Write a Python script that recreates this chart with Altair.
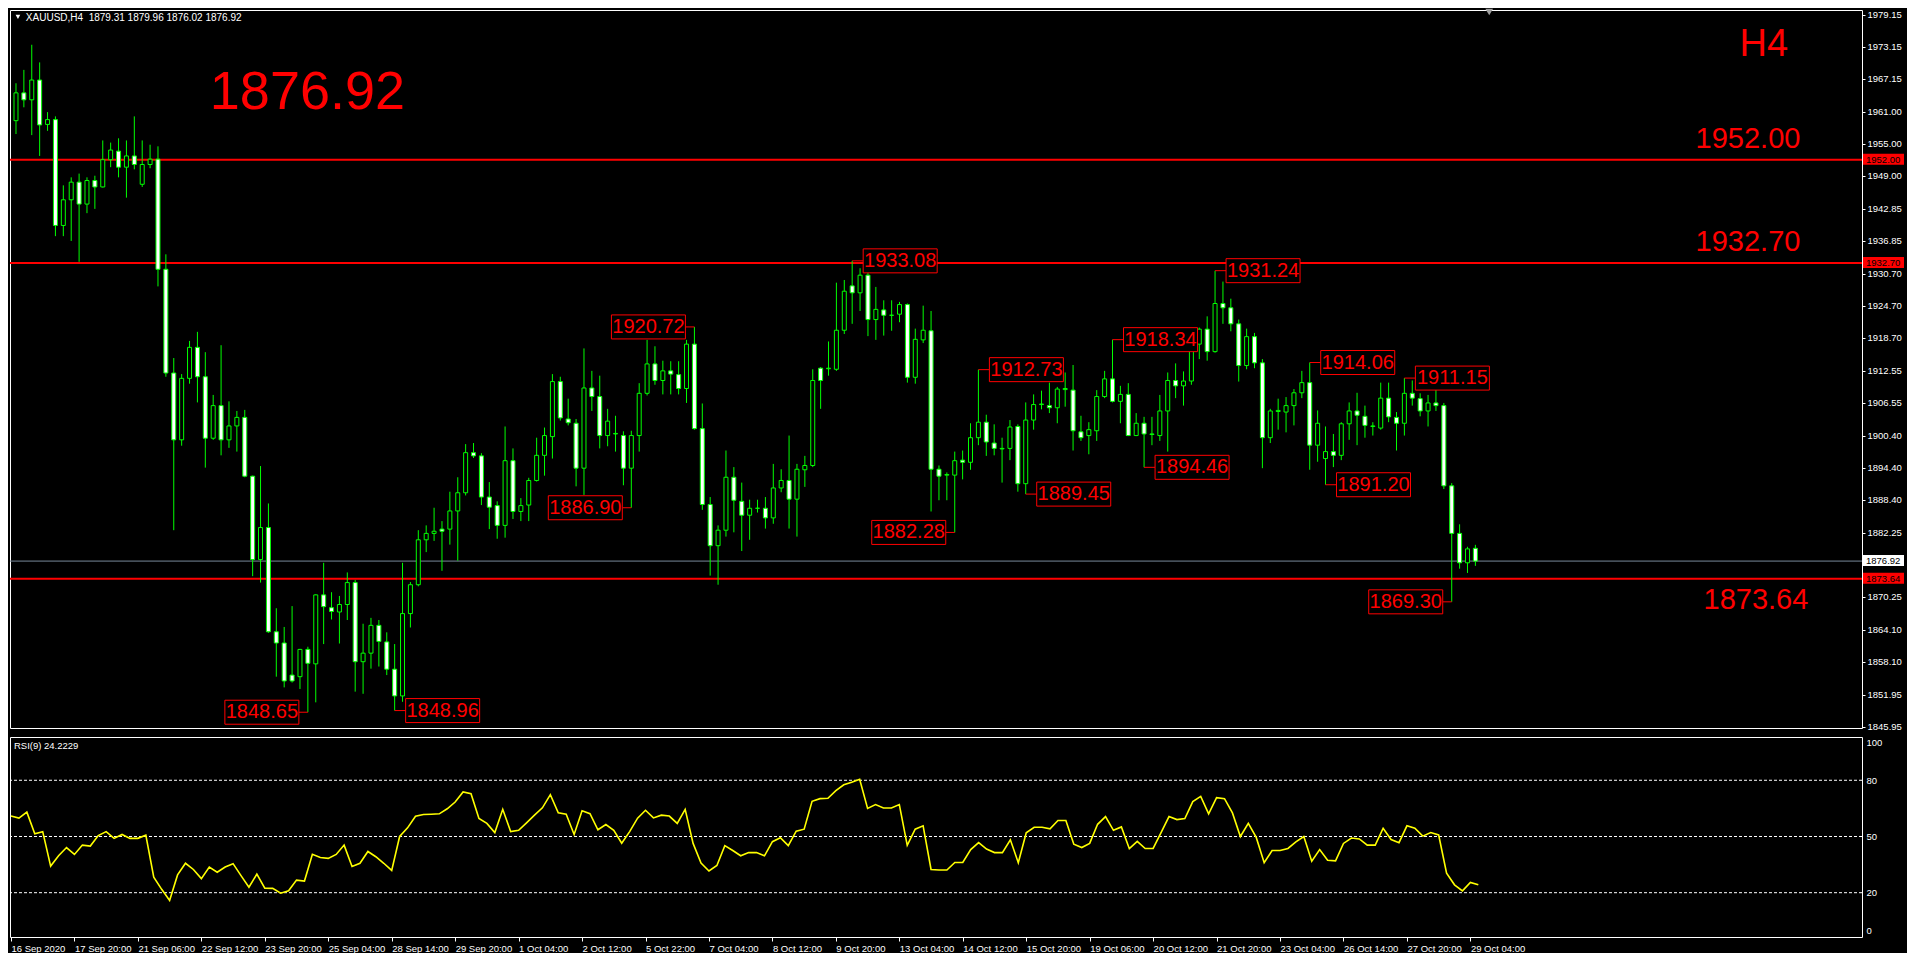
import json
import altair as alt
import pandas as pd

# ---------------- data ----------------
opens = [1959.3,1964.5,1963.2,1966.9,1958.6,1959.5,1939.7,1944.5,1947.8,1943.7,
1948.1,1946.9,1952.0,1953.6,1950.6,1952.7,1947.4,1951.1,1952.1,1931.5,
1912.1,1899.6,1911.1,1916.9,1911.4,1899.9,1906.0,1899.6,1902.2,1903.8,
1892.8,1877.2,1883.2,1863.7,1861.6,1855.6,1855.3,1860.4,1857.7,1870.6,
1868.2,1867.4,1868.8,1872.9,1858.1,1859.7,1864.9,1861.8,1856.7,1851.7,
1867.1,1872.5,1880.9,1882.1,1882.9,1882.9,1886.3,1889.7,1897.2,1896.6,
1888.9,1887.3,1883.6,1895.7,1886.2,1887.4,1892.0,1896.7,1900.2,1910.5,
1903.5,1902.7,1894.3,1909.3,1907.7,1900.4,1900.7,1900.4,1894.3,1900.4,
1908.3,1913.8,1910.7,1912.5,1911.8,1909.2,1917.5,1901.7,1887.5,1879.8,
1882.7,1892.6,1888.1,1885.5,1886.8,1886.8,1885.0,1890.6,1892.0,1888.5,
1894.0,1894.8,1913.0,1912.9,1912.8,1920.1,1928.4,1927.1,1930.4,1922.1,
1923.9,1922.9,1923.1,1924.9,1911.3,1918.3,1920.0,1894.1,1893.0,1893.0,
1895.8,1895.4,1900.0,1902.9,1899.0,1897.9,1898.0,1902.1,1891.4,1903.3,
1906.2,1906.0,1905.6,1909.0,1908.9,1901.1,1900.4,1901.3,1907.7,1911.0,
1906.8,1908.1,1900.4,1902.7,1900.7,1900.4,1905.0,1910.7,1909.7,1910.6,
1917.5,1920.3,1916.1,1925.1,1924.3,1921.3,1913.5,1918.9,1914.0,1900.0,
1904.9,1904.8,1906.0,1908.4,1910.3,1898.6,1896.1,1897.4,1896.7,1902.6,
1905.0,1904.0,1902.1,1901.8,1907.4,1903.8,1902.7,1908.3,1907.3,1905.0,
1906.5,1906.0,1891.0,1882.1,1876.6,1879.31]

highs = [1966.3,1968.8,1973.5,1970.2,1960.9,1960.1,1947.2,1948.7,1949.4,1948.7,
1949.0,1955.6,1955.2,1956.0,1955.6,1960.1,1955.6,1954.8,1954.5,1934.3,
1914.9,1911.9,1918.1,1919.8,1916.0,1908.0,1917.3,1906.8,1905.0,1905.2,
1892.9,1894.7,1887.7,1868.1,1864.6,1868.5,1860.5,1860.9,1870.7,1876.6,
1871.1,1870.4,1874.8,1873.4,1865.2,1866.3,1865.9,1863.6,1861.4,1876.6,
1873.0,1882.7,1883.6,1886.9,1884.4,1889.9,1892.6,1898.8,1899.0,1897.1,
1891.7,1888.1,1902.1,1898.0,1888.7,1892.5,1900.0,1901.9,1911.9,1911.4,
1907.3,1903.5,1916.7,1912.5,1911.6,1905.4,1904.1,1901.2,1901.3,1910.2,
1918.3,1917.1,1914.4,1914.3,1914.3,1918.3,1920.72,1906.4,1888.9,1883.6,
1897.6,1894.5,1891.6,1888.4,1888.4,1888.9,1895.1,1894.1,1900.4,1895.1,
1896.6,1912.8,1913.2,1918.0,1929.0,1929.5,1933.08,1931.7,1931.7,1928.2,
1925.7,1925.7,1925.4,1925.1,1920.4,1924.7,1923.7,1894.8,1893.5,1897.4,
1897.6,1902.7,1912.73,1904.3,1902.5,1900.0,1903.3,1902.5,1906.6,1908.1,
1908.8,1910.3,1909.5,1912.2,1913.6,1904.1,1902.9,1908.9,1912.5,1918.34,
1909.7,1910.2,1904.6,1903.9,1903.9,1908.0,1912.2,1913.9,1912.4,1920.4,
1920.6,1922.7,1931.24,1929.2,1926.0,1922.1,1920.4,1919.6,1914.7,1905.4,
1907.3,1907.6,1909.1,1912.5,1914.06,1905.1,1902.1,1900.7,1902.9,1906.6,
1908.4,1906.0,1902.9,1910.3,1910.3,1904.8,1911.15,1910.7,1908.3,1908.0,
1910.3,1906.5,1891.5,1883.8,1879.6,1879.96]

lows = [1956.8,1961.8,1956.6,1952.7,1957.4,1937.7,1937.7,1936.8,1932.9,1942.0,
1942.8,1946.8,1950.6,1948.7,1944.9,1950.2,1946.9,1950.4,1928.3,1911.4,
1882.7,1898.5,1910.1,1906.6,1894.4,1899.6,1896.7,1898.1,1897.4,1892.6,
1874.1,1872.9,1863.5,1855.3,1853.3,1854.2,1853.0,1848.65,1850.5,1861.4,
1866.0,1861.5,1865.9,1852.5,1852.1,1856.8,1857.2,1855.6,1848.96,1850.6,
1864.5,1872.2,1878.6,1880.7,1875.1,1880.0,1877.0,1889.2,1896.2,1887.4,
1882.9,1881.1,1881.3,1884.8,1884.4,1884.4,1891.8,1892.9,1896.1,1903.2,
1902.3,1890.9,1889.3,1905.0,1898.0,1898.4,1897.4,1891.1,1886.90,1897.4,
1907.9,1909.9,1908.1,1908.1,1908.1,1906.5,1901.5,1886.5,1874.2,1872.5,
1881.5,1882.3,1878.8,1880.9,1886.0,1883.0,1883.9,1889.8,1883.0,1881.5,
1890.8,1894.5,1905.4,1911.6,1912.5,1919.4,1921.3,1923.7,1919.0,1918.3,
1919.1,1920.0,1921.6,1910.3,1910.1,1917.7,1886.2,1888.3,1888.3,1882.28,
1892.2,1894.0,1898.6,1896.6,1896.7,1891.6,1895.8,1889.9,1889.45,1901.5,
1905.3,1904.6,1902.7,1905.8,1897.6,1899.4,1896.9,1899.4,1907.4,1906.6,
1902.7,1900.3,1900.3,1894.46,1898.6,1899.4,1897.4,1907.4,1906.0,1909.9,
1914.7,1914.4,1915.9,1921.3,1919.9,1910.5,1912.8,1913.0,1894.3,1899.0,
1901.5,1901.0,1902.3,1907.4,1894.0,1895.5,1891.20,1894.5,1895.8,1899.6,
1898.6,1900.0,1900.4,1901.5,1902.9,1897.6,1900.4,1906.0,1904.0,1902.1,
1905.0,1890.4,1869.30,1875.5,1874.7,1876.02]

closes = [1964.5,1963.2,1966.9,1958.5,1959.5,1939.7,1944.5,1947.8,1943.7,1948.1,
1946.9,1952.0,1953.8,1950.6,1952.7,1951.1,1951.1,1952.1,1931.5,1912.1,
1899.6,1911.1,1916.9,1911.4,1899.9,1906.0,1899.6,1902.2,1903.8,1892.8,
1877.2,1883.2,1863.7,1861.6,1854.5,1854.5,1860.4,1857.8,1870.6,1868.4,
1867.5,1868.8,1872.9,1858.1,1859.7,1864.9,1861.9,1856.7,1851.7,1867.1,
1872.5,1880.9,1882.1,1882.5,1882.5,1886.3,1889.7,1897.2,1896.6,1888.9,
1887.0,1883.6,1895.7,1886.2,1887.3,1892.0,1896.7,1900.4,1910.5,1903.7,
1902.8,1894.3,1909.3,1907.7,1900.4,1903.1,1900.8,1894.3,1900.4,1908.3,
1913.8,1910.7,1912.5,1911.9,1909.2,1917.5,1901.7,1887.5,1879.8,1882.7,
1892.6,1888.3,1885.5,1886.8,1886.8,1885.0,1890.6,1892.0,1888.5,1894.1,
1894.8,1910.7,1910.7,1913.0,1920.1,1927.4,1927.1,1930.4,1922.1,1924.0,
1922.9,1922.9,1924.9,1911.3,1918.4,1920.1,1894.1,1892.8,1893.1,1895.7,
1895.4,1900.0,1902.9,1899.2,1898.0,1898.0,1902.0,1891.4,1903.3,1906.2,
1906.3,1905.6,1909.1,1909.2,1901.3,1900.0,1901.5,1907.7,1911.0,1906.8,
1908.1,1900.4,1902.7,1900.7,1900.6,1905.0,1910.7,1909.7,1910.6,1917.5,
1920.3,1916.1,1925.1,1924.3,1921.3,1913.5,1918.9,1914.0,1900.0,1905.0,
1905.1,1906.0,1908.4,1910.3,1898.6,1902.7,1897.4,1896.7,1902.6,1905.0,
1904.2,1902.3,1902.2,1907.4,1903.9,1902.7,1908.3,1907.4,1905.0,1906.5,
1906.0,1891.0,1882.1,1876.6,1879.2,1876.92]

rsi_values = [60.9,59.8,63.0,51.5,52.6,34.2,39.7,44.1,40.4,45.4,
44.9,50.5,52.6,49.0,51.1,49.0,49.0,50.7,28.3,21.8,
15.8,29.5,35.7,32.4,27.5,33.7,30.9,33.7,35.5,29.1,
22.9,29.9,22.4,22.3,19.7,21.0,26.7,26.2,40.5,38.8,
38.3,40.4,45.4,34.0,35.7,42.0,39.2,35.7,31.9,50.0,
54.6,60.8,61.7,61.9,62.1,64.8,68.4,73.8,72.8,59.6,
57.0,52.1,64.5,52.6,53.3,57.3,61.4,65.3,72.3,62.6,
61.9,51.1,63.7,62.2,53.6,56.4,53.3,46.4,52.6,59.8,
64.0,59.9,61.4,60.9,57.0,64.5,46.3,35.8,31.6,34.5,
45.1,42.5,39.7,41.4,41.4,39.7,47.2,49.3,45.1,52.8,
53.9,68.8,70.2,70.4,74.5,77.6,78.9,80.5,65.0,67.0,
65.2,65.2,67.0,45.3,53.9,55.7,32.4,32.1,32.1,36.1,
36.1,43.0,46.7,43.3,41.4,41.4,48.2,36.0,52.0,54.9,
54.9,54.1,58.5,58.5,45.9,44.1,46.3,56.5,60.6,53.3,
55.1,43.5,47.4,43.6,43.6,52.1,60.6,59.0,59.6,68.6,
71.4,62.1,70.7,70.2,62.6,50.0,57.0,49.5,36.0,42.5,
42.5,43.6,47.1,50.0,36.8,43.0,37.3,37.0,46.3,49.2,
48.7,45.4,45.4,54.4,48.4,46.7,55.7,54.4,50.2,52.1,
50.8,30.4,24.2,21.0,25.5,24.22]

time_labels = ["16 Sep 2020", "17 Sep 20:00", "21 Sep 06:00", "22 Sep 12:00", "23 Sep 20:00",
               "25 Sep 04:00", "28 Sep 14:00", "29 Sep 20:00", "1 Oct 04:00", "2 Oct 12:00",
               "5 Oct 22:00", "7 Oct 04:00", "8 Oct 12:00", "9 Oct 20:00", "13 Oct 04:00",
               "14 Oct 12:00", "15 Oct 20:00", "19 Oct 06:00", "20 Oct 12:00", "21 Oct 20:00",
               "23 Oct 04:00", "26 Oct 14:00", "27 Oct 20:00", "29 Oct 04:00"]
time_label_step = 8

# 1876.25 is a tick whose label is hidden behind the current-price tag
price_ticks = [1979.15, 1973.15, 1967.15, 1961.00, 1955.00, 1949.00, 1942.85, 1936.85,
               1930.70, 1924.70, 1918.70, 1912.55, 1906.55, 1900.40, 1894.40, 1888.40,
               1882.25, 1876.25, 1870.25, 1864.10, 1858.10, 1851.95, 1845.95]
hidden_tick = 1876.25
rsi_ticks = [0, 20, 50, 80, 100]
rsi_levels = [20, 50, 80]

level_prices = [1952.00, 1932.70, 1873.64]
level_sides = ["above", "above", "below"]
bid_price = 1876.92

swing_index = [37, 48, 78, 86, 106, 119, 122, 128, 139, 143, 152, 164, 166, 176, 182]
swing_price = [1848.65, 1848.96, 1886.90, 1920.72, 1933.08, 1882.28, 1912.73, 1889.45,
               1918.34, 1894.46, 1931.24, 1914.06, 1891.20, 1911.15, 1869.30]
swing_side = ["L", "R", "L", "L", "R", "L", "R", "R", "R", "R", "R", "R", "R", "R", "L"]

header_text = "XAUUSD,H4\u00a0\u00a01879.31 1879.96 1876.02 1876.92"
rsi_header_text = "RSI(9) 24.2229"
big_price_text = "1876.92"
timeframe_text = "H4"

# ---------------- layout ----------------
W = 1852
HP = 718
HR = 200
REF_W = 1868.0
REF_HP = 732.0
REF_HR = 205.0


def px(ref_x):
    return (ref_x - 1) * W / REF_W


def py(ref_y):
    return ref_y * HP / REF_HP


FONT = "Liberation Sans"
RED = "#FF0000"
LIME = "#00FF00"

x_scale = alt.Scale(domain=[-0.125, 233.375], nice=False, zero=False)
yp_scale = alt.Scale(domain=[1845.7, 1980.0], nice=False, zero=False)
yr_scale = alt.Scale(domain=[-3.65, 103.1], nice=False, zero=False)

price_axis = alt.Axis(orient="right", values=price_ticks,
                      labelExpr=f"abs(datum.value - {hidden_tick}) < 0.001 ? '' : format(datum.value, '.2f')",
                      labelColor="white",
                      labelFont=FONT, labelFontSize=9.5, tickColor="white", tickSize=3,
                      labelPadding=2, domain=False, grid=False, labelOverlap=False,
                      labelFlush=False, title=None)
time_axis = alt.Axis(orient="bottom",
                     values=list(range(0, time_label_step * len(time_labels), time_label_step)),
                     labelExpr=f"{json.dumps(time_labels)}[round(datum.value / {time_label_step})]",
                     labelAlign="left", labelBaseline="top",
                     labelPadding=2, labelColor="white", labelFont=FONT, labelFontSize=9.5,
                     tickColor="white", tickSize=4, domain=False, grid=False,
                     labelOverlap=False, labelFlush=False, title=None)
rsi_axis = alt.Axis(orient="right", values=rsi_ticks, labelColor="white", labelFont=FONT,
                    labelFontSize=9.5, tickSize=0, labelPadding=4, domain=False, grid=False,
                    labelOverlap=False, labelFlush=False, title=None)

XP = alt.X("i:Q", scale=x_scale, axis=None, title=None)
XR = alt.X("i:Q", scale=x_scale, axis=time_axis, title=None)


def YP(f):
    return alt.Y(f, scale=yp_scale, axis=price_axis, title=None)


def YR(f):
    return alt.Y(f, scale=yr_scale, axis=rsi_axis, title=None)


candles = pd.DataFrame({"i": list(range(len(opens))), "o": opens, "h": highs,
                        "l": lows, "c": closes})

wicks = alt.Chart(candles).mark_rule(color=LIME, strokeWidth=1, clip=True).encode(
    x=XP, y=YP("l:Q"), y2="h:Q")
bodies = alt.Chart(candles).mark_bar(size=4, stroke=LIME, strokeWidth=1, clip=True).encode(
    x=XP, y=YP("o:Q"), y2="c:Q",
    fill=alt.condition("datum.c < datum.o", alt.value("white"), alt.value("black")))

levels_df = pd.DataFrame({"p": level_prices, "side": level_sides,
                          "txt": [f"{v:.2f}" for v in level_prices]})
level_rules = alt.Chart(levels_df).mark_rule(color=RED, strokeWidth=2).encode(y=YP("p:Q"))
level_text_above = alt.Chart(levels_df).transform_filter("datum.side == 'above'").mark_text(
    color=RED, font=FONT, fontSize=29, dy=-21, align="center", baseline="middle").encode(
    x=alt.value(px(1754)), y=YP("p:Q"), text="txt:N")
level_text_below = alt.Chart(levels_df).transform_filter("datum.side == 'below'").mark_text(
    color=RED, font=FONT, fontSize=29, dy=21, align="center", baseline="middle").encode(
    x=alt.value(px(1762)), y=YP("p:Q"), text="txt:N")

bid_rule = alt.Chart(pd.DataFrame({"p": [bid_price]})).mark_rule(
    color="#778899", strokeWidth=1).encode(y=YP("p:Q"))

swings = pd.DataFrame({"i": swing_index, "p": swing_price, "side": swing_side,
                       "txt": [f"{v:.2f}" for v in swing_price]})


def swing_layers(side, sign):
    base = alt.Chart(swings).transform_filter(f"datum.side == '{side}'")
    near = 11 if sign > 0 else 9
    far = near + 74
    conn = base.mark_rule(color=RED, strokeWidth=1, x2Offset=sign * near).encode(
        x=XP, x2="i:Q", y=YP("p:Q"))
    box = base.mark_rect(fill="black", stroke=RED, strokeWidth=1,
                         xOffset=sign * near, x2Offset=sign * far,
                         yOffset=-12, y2Offset=12).encode(
        x=XP, x2="i:Q", y=YP("p:Q"), y2="p:Q")
    txt = base.mark_text(color=RED, font=FONT, fontSize=20, dx=sign * (near + 37),
                         align="center", baseline="middle").encode(
        x=XP, y=YP("p:Q"), text="txt:N")
    return [conn, box, txt]


badges = pd.DataFrame({"p": level_prices + [bid_price],
                       "bg": [RED, RED, RED, "#FFFFFF"],
                       "txt": [f"{v:.2f}" for v in level_prices + [bid_price]]})
badge_rect = alt.Chart(badges).mark_rect(yOffset=-6, y2Offset=5).encode(
    x=alt.value(W + 1), x2=alt.value(W + 42), y=YP("p:Q"), y2="p:Q",
    fill=alt.Fill("bg:N", scale=None, legend=None))
badge_text = alt.Chart(badges).mark_text(align="left", baseline="middle", font=FONT,
                                         fontSize=9.5, color="black").encode(
    x=alt.value(W + 4), y=YP("p:Q"), text="txt:N")

one = pd.DataFrame({"t": [header_text]})
hdr_text = alt.Chart(one).mark_text(align="left", baseline="middle", color="white",
                                    font=FONT, fontSize=10).encode(
    x=alt.value(px(17)), y=alt.value(py(8)), text="t:N")
hdr_tri = alt.Chart(one).mark_point(shape="triangle-down", filled=True, color="white",
                                    size=22, opacity=1).encode(
    x=alt.value(px(9)), y=alt.value(py(7)))
shift_tri = alt.Chart(one).mark_point(shape="triangle-down", filled=True, color="#A0A0A0",
                                      size=60, opacity=1).encode(
    x=alt.value(px(1493)), y=alt.value(2))
big_text = alt.Chart(pd.DataFrame({"t": [big_price_text]})).mark_text(
    align="center", baseline="middle", color=RED, font=FONT, fontSize=54).encode(
    x=alt.value(px(301)), y=alt.value(py(85)), text="t:N")
tf_text = alt.Chart(pd.DataFrame({"t": [timeframe_text]})).mark_text(
    align="center", baseline="middle", color=RED, font=FONT, fontSize=38).encode(
    x=alt.value(px(1770)), y=alt.value(py(36)), text="t:N")

price = alt.layer(
    level_rules, bid_rule, wicks, bodies,
    *swing_layers("R", 1), *swing_layers("L", -1),
    level_text_above, level_text_below, badge_rect, badge_text,
    hdr_tri, hdr_text, shift_tri, big_text, tf_text,
).properties(width=W, height=HP)

# ---------------- RSI pane ----------------
rsi_df = pd.DataFrame({"i": list(range(len(rsi_values))), "r": rsi_values})
rsi_line = alt.Chart(rsi_df).mark_line(color="#FFFF00", strokeWidth=1.6, clip=True).encode(
    x=XR, y=YR("r:Q"))
rsi_level_rules = alt.Chart(pd.DataFrame({"v": rsi_levels})).mark_rule(
    color="white", strokeDash=[3, 2], strokeWidth=1).encode(y=YR("v:Q"))
rsi_hdr = alt.Chart(pd.DataFrame({"t": [rsi_header_text]})).mark_text(
    align="left", baseline="middle", color="white", font=FONT, fontSize=9.5).encode(
    x=alt.value(px(5)), y=alt.value(9 * HR / REF_HR), text="t:N")

rsi = alt.layer(rsi_level_rules, rsi_line, rsi_hdr).properties(width=W, height=HR)

chart = alt.vconcat(price, rsi, spacing=4).properties(
    background="black", padding={"left": 0, "top": 0, "right": 2, "bottom": 0}
).configure_view(stroke="white", strokeWidth=1)

chart.save("out.html", embed_options={"renderer": "svg", "actions": False})
